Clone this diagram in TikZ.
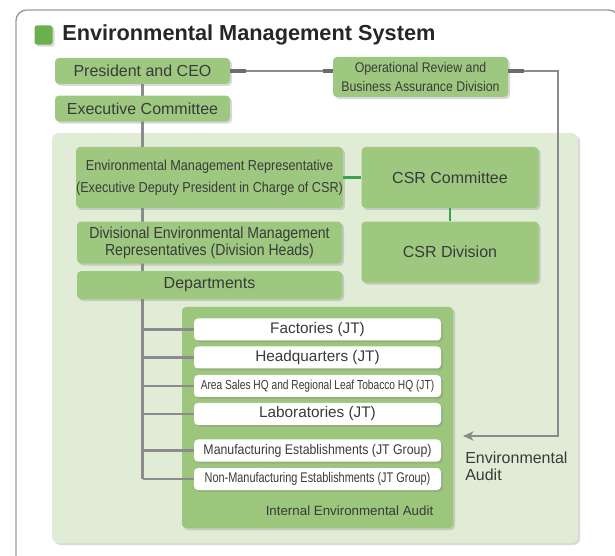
\documentclass[tikz,border=0pt]{standalone}
\usepackage{fontspec}
\setmainfont{Liberation Sans}
\newfontfamily\condfont[FakeStretch=0.88]{Liberation Sans}
\newfontfamily\narrowfont[FakeStretch=0.78]{Liberation Sans}
\usetikzlibrary{arrows.meta, shadows, positioning}

\definecolor{boxgreen}{HTML}{9EC880}
\definecolor{panelgreen}{HTML}{E1ECD7}
\definecolor{auditgreen}{HTML}{9CC67C}
\definecolor{markgreen}{HTML}{6AB04C}
\definecolor{linkgreen}{HTML}{3BA34B}
\definecolor{linkgray}{HTML}{8B8B8F}
\definecolor{stubgray}{HTML}{6C6C70}
\definecolor{framegray}{HTML}{9C9C9C}
\definecolor{textgray}{HTML}{3A3A3A}

\pgfdeclarelayer{panels}
\pgfdeclarelayer{lines}
\pgfsetlayers{panels,lines,main}

\begin{document}
\begin{tikzpicture}[x=0.75pt, y=-0.75pt,
  box shadow/.style={drop shadow={shadow xshift=1.5pt, shadow yshift=-1.5pt, opacity=0.3}},
  green node/.style={fill=boxgreen, rounded corners=3pt, inner sep=0pt, align=center, text=textgray, minimum width=131.25pt, box shadow},
  wide node/.style={green node, minimum width=198.75pt},
  white node/.style={fill=white, rounded corners=3pt, inner sep=0pt, text=textgray, minimum width=185.25pt, minimum height=16.5pt, box shadow},
  big text/.style={font=\fontsize{12}{13}\selectfont},
  white text/.style={font=\fontsize{11.5}{13}\selectfont},
  cond text/.style={font=\condfont\fontsize{10.5}{13}\selectfont},
  narrow text/.style={font=\narrowfont\fontsize{10.5}{13}\selectfont},
  small narrow text/.style={font=\narrowfont\fontsize{9.8}{12}\selectfont},
  link/.style={draw=linkgray, line width=1.6pt},
  stub/.style={draw=stubgray, line width=3pt},
  green link/.style={draw=linkgreen, line width=1.6pt}]
\useasboundingbox (0,0) rectangle (615,556);

% frame and title
\draw[framegray, line width=1.1pt, rounded corners=8pt] (16,556) -- (16,10) -- (619,10) -- (619,40);
\node[fill=markgreen, rounded corners=2pt, minimum width=13.5pt, minimum height=14.5pt, inner sep=0pt, box shadow] (mark) at (43.5,35) {};
\node[anchor=base west, inner sep=0pt, font=\fontsize{16.3}{18}\selectfont\bfseries, text=black!85] (title) at (62,41) {Environmental Management System};

% management boxes
\node[green node, big text, minimum height=19.5pt] (ceo) at (142.5,71) {President and CEO};
\node[green node, big text, minimum height=19.5pt, below=8.25pt of ceo] (exec) {Executive Committee};
\node[green node, minimum height=30pt, font=\condfont\fontsize{10.5}{14}\selectfont] (ops) at (420.5,77) {Operational Review and\\Business Assurance Division};

\node[wide node, minimum height=45.75pt, font=\condfont\fontsize{10.8}{16.5}\selectfont] (emr) at (209.5,177.5) {Environmental Management Representative\\(Executive Deputy President in Charge of CSR)};
\node[wide node, minimum height=31.5pt, below=9.75pt of emr, font=\condfont\fontsize{12}{13}\selectfont] (demr) {Divisional Environmental Management\\Representatives (Division Heads)};
\node[wide node, big text, minimum height=21pt, below=5.25pt of demr] (dept) {Departments};
\node[green node, big text, minimum width=132.75pt, minimum height=45.75pt, right=13.5pt of emr] (csrc) {CSR Committee};
\node[green node, big text, minimum width=132.75pt, minimum height=45.75pt, below=9.75pt of csrc] (csrd) {CSR Division};

% sites
\foreach \name/\y/\style/\label in {fac/329.5/white text/Factories (JT), hq/357.5/white text/Headquarters (JT),
    area/386/small narrow text/Area Sales HQ and Regional Leaf Tobacco HQ (JT), lab/414/white text/Laboratories (JT),
    man/450.5/cond text/Manufacturing Establishments (JT Group), nonman/479/narrow text/Non-Manufacturing Establishments (JT Group)}{
    \node[white node, \style] (\name) at (317.5,\y) {\label};}

\node[anchor=base, inner sep=0pt, text=textgray, font=\fontsize{10}{12}\selectfont] (internal) at (349.5,515) {Internal Environmental Audit};
\node[anchor=north west, align=left, inner sep=0pt, text=textgray, font=\fontsize{12}{12.75}\selectfont] (envaudit) at (465,451.5) {Environmental\\Audit};

\begin{pgfonlayer}{panels}
\node[fill=panelgreen, rounded corners=5pt, minimum width=394.5pt, minimum height=307.5pt, box shadow] (panel) at (315,338) {};
\node[fill=auditgreen, rounded corners=3pt, minimum width=203.25pt, minimum height=165.75pt, box shadow] (audit) at (317.5,417.5) {};
\end{pgfonlayer}

\begin{pgfonlayer}{lines}
\draw[link, line width=2.2pt] (ceo.south) -- (ceo.south |- nonman.west);
\foreach \name in {fac,hq,area,lab,man,nonman}
    \draw[link] (ceo.south |- \name.west) -- (\name.west);
\end{pgfonlayer}

% connectors
\coordinate (ops in) at (ops.west |- ceo.east);
\coordinate (ops out) at (ops.east |- ceo.east);
\coordinate (audit tip) at (463,436);
\draw[link] (ceo.east) -- (ops in);
\draw[stub] (ceo.east) -- ++(16,0);
\draw[stub] (ops in) -- ++(-10,0);
\draw[link, line width=1.3pt, -{Stealth[length=8pt, width=7pt, inset=2.5pt]}] (ops out) -- ++(50,0) |- (audit tip);
\draw[stub] (ops out) -- ++(16,0);
\draw[green link] (emr.east) -- (csrc.west);
\draw[green link] (csrc.south) -- (csrd.north);
\end{tikzpicture}
\end{document}
